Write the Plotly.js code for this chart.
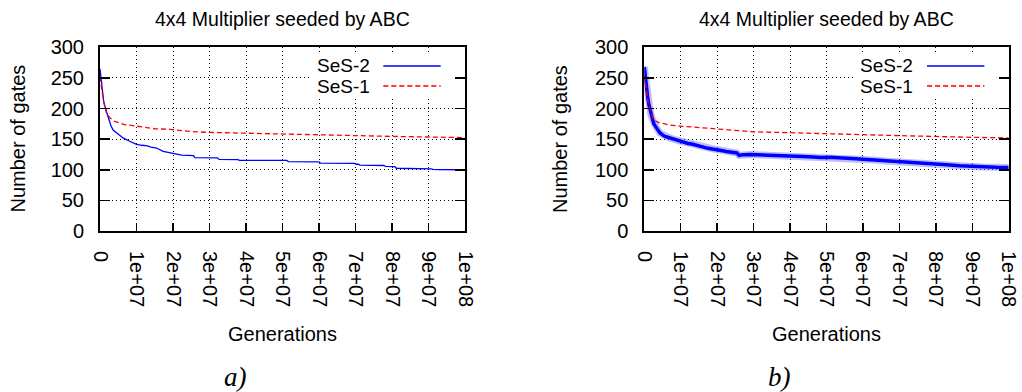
<!DOCTYPE html>
<html>
<head>
<meta charset="utf-8">
<script src="https://cdn.plot.ly/plotly-3.0.1.min.js"></script>
<style>html,body{margin:0;padding:0;background:#fff;}#chart{width:1022px;height:392px;}</style>
</head>
<body>
<div id="chart"></div>
<script>
// ---------- data ----------
const chartTitle = '4x4 Multiplier seeded by ABC';
const xTitle = 'Generations';
const yTitle = 'Number of gates';
const panelLabels = ['a)', 'b)'];
const seriesNames = ['SeS-2', 'SeS-1'];

const xTickVals = [0, 1e7, 2e7, 3e7, 4e7, 5e7, 6e7, 7e7, 8e7, 9e7, 1e8];
const xTickText = ['0', '1e+07', '2e+07', '3e+07', '4e+07', '5e+07', '6e+07', '7e+07', '8e+07', '9e+07', '1e+08'];
const yTickVals = [0, 50, 100, 150, 200, 250, 300];

// panel a) SeS-2 (generations in millions; smooth start, then small steps)
const aSes2Gen = [0, 0.5, 1.0, 1.5, 2.3, 3.0, 3.6, 4.6, 5.5, 6.4, 8.0, 9.1, 10, 11.5, 13, 14, 15.5, 17.3, 19.2, 22.0, 22.4, 25.6, 26.0, 32.2, 32.6, 37.8, 38.2, 51.2, 51.6, 60.0, 60.4, 69.8, 70.2, 70.8, 71.2, 77.8, 78.2, 80.8, 81.2, 90.8, 91.2, 93, 100];
const aSes2Gates = [265, 235, 212, 200, 184, 172, 165, 160, 155, 151.6, 147, 144, 141.5, 140, 139, 137, 135.5, 130, 127.5, 125, 124, 123, 119.7, 119.5, 117, 116.5, 115.4, 115.2, 113.4, 113, 111, 110.5, 109, 109, 107.5, 107, 105.4, 105, 102.5, 101.5, 100.8, 100.3, 100];
// panel a) SeS-1
const aSes1Gen = [0, 0.5, 1, 1.5, 1.8, 2.7, 4, 5.5, 7, 9.1, 12, 15, 19.2, 25, 30, 40, 50, 60, 70, 80, 90, 100];
const aSes1Gates = [252, 228, 210, 200, 192, 185, 179, 176, 173.5, 172, 169, 167, 166, 162.5, 161, 159.5, 158.5, 157, 156, 154.5, 153.5, 152.5];
// panel b) SeS-2 (noisy band)
const bSes2Gen = [0, 0.3, 0.6, 1, 1.3, 1.6, 2, 2.6, 3.4, 4.3, 5.5, 7, 8.5, 10, 10.8, 12, 13, 14, 15.3, 16.5, 17.5, 19, 20, 21.5, 22.5, 24, 25.4, 26, 27, 29, 32, 35.4, 38, 40.9, 43.5, 46.4, 48.2, 51, 53.7, 56, 58, 60, 63, 66, 68, 70, 73, 76.5, 80, 83, 86.5, 90, 93, 96.5, 100];
const bSes2Gates = [268, 250, 232, 215, 205, 197, 186, 175, 168, 160, 155, 152, 149, 146.5, 145, 143, 142, 140, 138, 136.5, 135, 134, 133, 131, 130, 129, 127.5, 123.5, 124.5, 125, 124, 123.4, 122.5, 122, 121.5, 121, 120, 120.5, 120, 119, 118, 117, 116, 114.5, 113.5, 112.7, 111.5, 110.5, 109, 108, 106.5, 105.4, 104.5, 104, 103.8];
// panel b) SeS-1
const bSes1Gen = [0, 0.5, 1, 1.6, 2.6, 4, 7, 9.8, 15, 20, 25, 30, 40, 50, 60, 70, 80, 90, 100];
const bSes1Gates = [255, 230, 212, 198, 181, 177, 173, 171.4, 169, 167, 164, 162, 160.5, 158.3, 157.3, 155.7, 154, 153, 152];

// ---------- helpers ----------
const W = 1022, H = 392;
const px = v => v / W;
const py = v => 1 - v / H;
const M = arr => arr.map(v => v * 1e6);
const FONT = 'Liberation Sans, Arial, Helvetica, sans-serif';
const BLUE = '#0000ff', RED = '#ff0000';

const traces = [
  {x: M(aSes2Gen), y: aSes2Gates, xaxis: 'x', yaxis: 'y', mode: 'lines', line: {color: BLUE, width: 1.3}, name: seriesNames[0], showlegend: false},
  {x: M(aSes1Gen), y: aSes1Gates, xaxis: 'x', yaxis: 'y', mode: 'lines', line: {color: RED, width: 1.3, dash: '5px,3px'}, name: seriesNames[1], showlegend: false},
  {x: M(bSes2Gen), y: bSes2Gates, xaxis: 'x2', yaxis: 'y2', mode: 'lines', line: {color: '#7f7fff', width: 7}, opacity: 0.5, hoverinfo: 'skip', showlegend: false},
  {x: M(bSes2Gen), y: bSes2Gates, xaxis: 'x2', yaxis: 'y2', mode: 'lines', line: {color: BLUE, width: 3.5}, name: seriesNames[0], showlegend: false},
  {x: M(bSes1Gen), y: bSes1Gates, xaxis: 'x2', yaxis: 'y2', mode: 'lines', line: {color: RED, width: 1.3, dash: '5px,3px'}, name: seriesNames[1], showlegend: false}
];

function xAxis(domain, anchor) {
  return {
    domain: domain, anchor: anchor, range: [0, 1e8], tickvals: xTickVals, ticktext: xTickText,
    tickangle: 90, ticks: 'inside', ticklen: 8, tickwidth: 1.5, tickcolor: '#000',
    showline: true, linewidth: 2, linecolor: '#000', mirror: true,
    showgrid: true, gridcolor: '#000', gridwidth: 1, griddash: '1px,3px', zeroline: false,
    tickfont: {family: FONT, size: 20, color: '#000'}, ticklabelstandoff: 14, fixedrange: true
  };
}
function yAxis(domain, anchor) {
  return {
    domain: domain, anchor: anchor, range: [0, 300], tickvals: yTickVals,
    ticks: 'inside', ticklen: 10, tickwidth: 1.5, tickcolor: '#000',
    showline: true, linewidth: 2, linecolor: '#000', mirror: 'allticks',
    showgrid: true, gridcolor: '#000', gridwidth: 1, griddash: '1px,3px', zeroline: false,
    tickfont: {family: FONT, size: 20, color: '#000'}, ticklabelstandoff: 10, fixedrange: true
  };
}

const yDom = [py(231), py(47.3)];
const panels = [
  {x0: 100, x1: 465, cx: 282.5, ylab: 17.5, lab: 235.8},
  {x0: 644.3, x1: 1008.7, cx: 826.5, ylab: 560, lab: 779.3}
];

const annotations = [];
const shapes = [];
panels.forEach((p, i) => {
  annotations.push({text: chartTitle, xref: 'paper', yref: 'paper', x: px(p.cx), y: py(18.5), xanchor: 'center', yanchor: 'middle', showarrow: false, font: {family: FONT, size: 19.5, color: '#000'}});
  annotations.push({text: xTitle, xref: 'paper', yref: 'paper', x: px(p.cx), y: py(334), xanchor: 'center', yanchor: 'middle', showarrow: false, font: {family: FONT, size: 20, color: '#000'}});
  annotations.push({text: yTitle, xref: 'paper', yref: 'paper', x: px(p.ylab), y: py(139), xanchor: 'center', yanchor: 'middle', textangle: -90, showarrow: false, font: {family: FONT, size: 20, color: '#000'}});
  annotations.push({text: '<i>' + panelLabels[i] + '</i>', xref: 'paper', yref: 'paper', x: px(p.lab), y: py(377), xanchor: 'center', yanchor: 'middle', showarrow: false, font: {family: 'Liberation Serif, DejaVu Serif, serif', size: 27, color: '#000'}});
  // legend (gnuplot style: label then sample)
  const off = p.x1 - 465;
  shapes.push({type: 'rect', xref: 'paper', yref: 'paper', x0: px(310 + off), x1: px(453 + off), y0: py(98), y1: py(54), fillcolor: '#fff', line: {width: 0}, layer: 'above'});
  annotations.push({text: seriesNames[0], xref: 'paper', yref: 'paper', x: px(370.5 + off), y: py(65.2), xanchor: 'right', yanchor: 'middle', borderpad: 0, showarrow: false, font: {family: FONT, size: 19, color: '#000'}});
  annotations.push({text: seriesNames[1], xref: 'paper', yref: 'paper', x: px(370.5 + off), y: py(86.9), xanchor: 'right', yanchor: 'middle', borderpad: 0, showarrow: false, font: {family: FONT, size: 19, color: '#000'}});
  shapes.push({type: 'line', xref: 'paper', yref: 'paper', x0: px(383.3 + off), x1: px(440.7 + off), y0: py(66), y1: py(66), line: {color: BLUE, width: 1.3}, layer: 'above'});
  shapes.push({type: 'line', xref: 'paper', yref: 'paper', x0: px(383.3 + off), x1: px(440.7 + off), y0: py(86), y1: py(86), line: {color: RED, width: 1.3, dash: '5px,3px'}, layer: 'above'});
});

const layout = {
  width: W, height: H, margin: {l: 0, r: 0, t: 0, b: 0},
  paper_bgcolor: '#fff', plot_bgcolor: '#fff', showlegend: false,
  xaxis: xAxis([px(100), px(465)], 'y'),
  yaxis: yAxis(yDom, 'x'),
  xaxis2: xAxis([px(644.3), px(1008.7)], 'y2'),
  yaxis2: yAxis(yDom, 'x2'),
  annotations: annotations, shapes: shapes
};

Plotly.newPlot('chart', traces, layout, {displayModeBar: false, staticPlot: true});
</script>
</body>
</html>
